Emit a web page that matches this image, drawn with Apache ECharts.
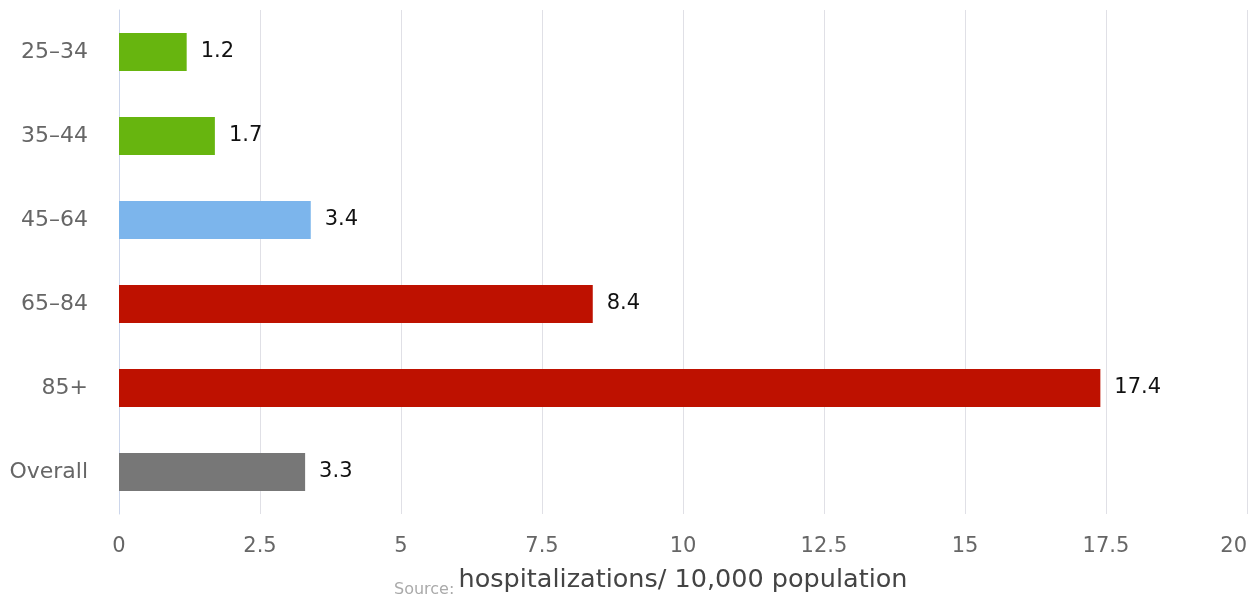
<!DOCTYPE html>
<html><head><meta charset="utf-8">
<script src="https://cdn.jsdelivr.net/npm/echarts@6/dist/echarts.min.js"></script>
<style>html,body{margin:0;padding:0;background:#fff}#c{width:1253px;height:594px}</style>
</head><body><div id="c"></div>
<script>
const categories = ['25–34','35–44','45–64','65–84','85+','Overall'];
const values = [1.2, 1.7, 3.4, 8.4, 17.4, 3.3];
const barColors = ['#67b50f','#67b50f','#7cb5ec','#be1100','#be1100','#777777'];
const xTicks = [0, 2.5, 5, 7.5, 10, 12.5, 15, 17.5, 20];
const axisTitle = 'hospitalizations/ 10,000 population';
const sourceText = 'Source:';

const chart = echarts.init(document.getElementById('c'));
chart.setOption({
  animation: false,
  grid: {left: 119, right: 6, top: 10, bottom: 80, containLabel: false, outerBoundsMode: 'none'},
  xAxis: {
    type: 'value', min: xTicks[0], max: xTicks[xTicks.length - 1], interval: 2.5,
    name: axisTitle, nameLocation: 'middle', nameGap: 53,
    nameTextStyle: {fontFamily: 'DejaVu Sans', fontSize: 25.5, color: '#444'},
    axisLine: {show: false}, axisTick: {show: false},
    axisLabel: {fontFamily: 'DejaVu Sans', fontSize: 21, color: '#666', margin: 22,
      alignMaxLabel: 'right', formatter: v => String(v)},
    splitLine: {show: true, lineStyle: {color: '#e0e0e6', width: 1}}
  },
  yAxis: {
    type: 'category', data: categories, inverse: true,
    axisLine: {show: true, lineStyle: {color: '#ccd6eb', width: 1}},
    axisTick: {show: false},
    axisLabel: {fontFamily: 'DejaVu Sans', fontSize: 22, color: '#666', margin: 31}
  },
  series: [{
    type: 'bar', barWidth: 38,
    data: values.map((v, i) => ({value: v, itemStyle: {color: barColors[i]}})),
    label: {show: true, position: 'right', distance: 14, fontFamily: 'DejaVu Sans',
      fontSize: 21, color: '#111'}
  }],
  graphic: [{
    type: 'text', left: 394, top: 582, z: -1,
    style: {text: sourceText, fontFamily: 'DejaVu Sans', fontSize: 16, fill: '#aaa'}
  }]
});
</script></body></html>
